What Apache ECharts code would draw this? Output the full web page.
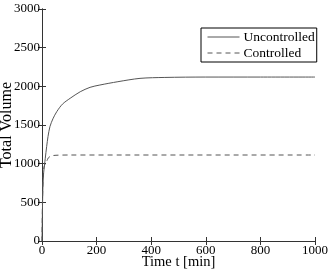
<!DOCTYPE html>
<html><head><meta charset="utf-8">
<script src="https://cdn.jsdelivr.net/npm/echarts@6/dist/echarts.min.js"></script>
<style>html,body{margin:0;padding:0;background:#fff}#c{width:330px;height:273px}</style>
</head><body><div id="c"></div>
<script>
var uncontrolledT = [0,1,2,3,4,6,9,12,17,22,29,40,54,75,103,140,176,212,278,359,450,600,800,1000];
var uncontrolledV = [0,250,480,650,760,880,980,1070,1220,1350,1478,1580,1672,1770,1845,1930,1987,2017,2060,2103,2115,2120,2120,2120];
var controlledT = [0,1,2,4,7,12,17,23,30,40,60,100,300,1000];
var controlledV = [0,300,550,800,950,1000,1030,1073,1095,1105,1110,1112,1112,1112];
var xTicks = [0,200,400,600,800,1000];
var yTicks = [0,500,1000,1500,2000,2500,3000];

function pairs(t,v){return t.map(function(x,i){return [x,v[i]];});}
var font = 'Liberation Serif';
var ch = echarts.init(document.getElementById('c'));
var axLine = {show:true,lineStyle:{color:'#333',width:1}};
var tick = {show:true,inside:true,length:4,lineStyle:{color:'#333'}};
ch.setOption({
  animation:false,
  grid:{left:42,right:15,top:9,bottom:32,containLabel:false,outerBoundsMode:'none'},
  legend:{
    data:['Uncontrolled','Controlled'],
    left:201, top:28, orient:'vertical',
    borderColor:'#000', borderWidth:1, backgroundColor:'#fff',
    padding:[2,2,2,6], itemGap:2, itemWidth:32, itemHeight:12,
    itemStyle:{opacity:0}, lineStyle:{width:1},
    textStyle:{fontFamily:font,fontSize:13.5,color:'#000',padding:[0,0,0,-1]}
  },
  xAxis:[{
    type:'value', min:0, max:1000, interval:200,
    name:'Time t [min]', nameLocation:'middle', nameGap:14, nameMoveOverlap:false,
    nameTextStyle:{fontFamily:font,fontSize:14.5,color:'#000'},
    axisLine:axLine, axisTick:tick,
    axisLabel:{fontFamily:font,fontSize:13,color:'#000',margin:3,formatter:function(v){return String(v);}},
    splitLine:{show:false}
  },{
    type:'value', position:'top', min:0, max:1000, interval:200,
    axisLine:axLine, axisTick:tick,
    axisLabel:{show:false}, splitLine:{show:false}
  }],
  yAxis:[{
    type:'value', min:0, max:3000, interval:500,
    name:'Total Volume', nameLocation:'middle', nameGap:27, nameMoveOverlap:false,
    nameTextStyle:{fontFamily:font,fontSize:16,color:'#000'},
    axisLine:axLine, axisTick:tick,
    axisLabel:{fontFamily:font,fontSize:13,color:'#000',margin:2,formatter:function(v){return String(v);}},
    splitLine:{show:false}
  },{
    type:'value', position:'right', min:0, max:3000, interval:500,
    axisLine:axLine, axisTick:tick,
    axisLabel:{show:false}, splitLine:{show:false}
  }],
  series:[{
    name:'Uncontrolled', type:'line', smooth:0.3, symbol:'none',
    data:pairs(uncontrolledT,uncontrolledV),
    lineStyle:{color:'#555',width:1}, itemStyle:{color:'#555'}
  },{
    name:'Controlled', type:'line', smooth:0.3, symbol:'none',
    data:pairs(controlledT,controlledV),
    lineStyle:{color:'#555',width:1,type:[5,4]}, itemStyle:{color:'#555'}
  }]
});
</script></body></html>
